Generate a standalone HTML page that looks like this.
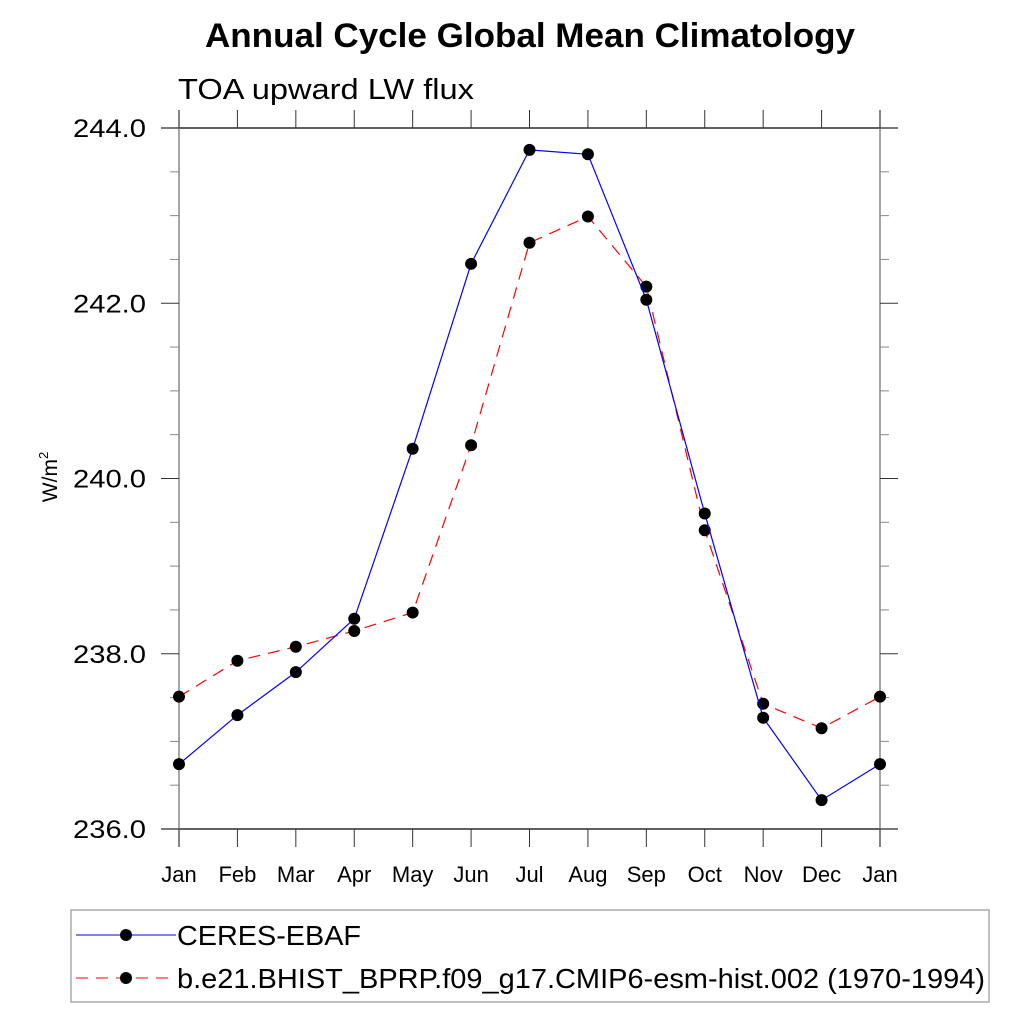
<!DOCTYPE html>
<html><head><meta charset="utf-8"><style>
body{margin:0;background:#fff;}
svg text{font-family:"Liberation Sans",sans-serif;}
</style></head><body>
<svg id="chart" width="1024" height="1024" viewBox="0 0 1024 1024" xmlns="http://www.w3.org/2000/svg">
<rect width="1024" height="1024" fill="#fff"/>
<text x="205" y="47" textLength="650" lengthAdjust="spacingAndGlyphs" font-size="34" font-weight="bold">Annual Cycle Global Mean Climatology</text>
<text x="178" y="99" textLength="296" lengthAdjust="spacingAndGlyphs" font-size="29">TOA upward LW flux</text>
<text transform="translate(57,477) rotate(-90)" text-anchor="middle" font-size="21">W/m<tspan dy="-9" font-size="13">2</tspan></text>
<g id="axes"></g>
<g id="series"></g>
<rect x="71" y="910" width="918" height="92" fill="none" stroke="#aaa" stroke-width="1.5"/>
<line x1="76" y1="935" x2="176" y2="935" stroke="#00f" stroke-width="1"/>
<circle cx="126" cy="935" r="6" fill="#000"/>
<text x="177" y="945" textLength="184" lengthAdjust="spacingAndGlyphs" font-size="28">CERES-EBAF</text>
<line x1="76" y1="978" x2="176" y2="978" stroke="#f00" stroke-width="1" stroke-dasharray="12,8"/>
<circle cx="126" cy="978" r="6" fill="#000"/>
<text x="177" y="988" textLength="808" lengthAdjust="spacingAndGlyphs" font-size="28">b.e21.BHIST_BPRP.f09_g17.CMIP6-esm-hist.002 (1970-1994)</text>
</svg>
<script>
const months = ["Jan","Feb","Mar","Apr","May","Jun","Jul","Aug","Sep","Oct","Nov","Dec","Jan"];
const ceres = [236.74,237.30,237.79,238.40,240.34,242.45,243.75,243.70,242.04,239.60,237.27,236.33,236.74];
const model = [237.51,237.92,238.08,238.26,238.47,240.38,242.69,242.99,242.19,239.41,237.43,237.15,237.51];
const yTicks = [236,238,240,242,244];
const yTickLabels = ["236.0","238.0","240.0","242.0","244.0"];
const NS="http://www.w3.org/2000/svg";
const X0=179,X1=880,Y0=829,Y1=128,ymin=236,ymax=244;
const xs=i=>X0+(X1-X0)*i/(months.length-1);
const ys=v=>Y0-(v-ymin)/(ymax-ymin)*(Y0-Y1);
function mk(tag,attrs,parent){const e=document.createElementNS(NS,tag);for(const k in attrs)e.setAttribute(k,attrs[k]);parent.appendChild(e);return e;}
const ax=document.getElementById('axes'),se=document.getElementById('series');
let e;
e=mk('line',{x1:161,y1:Y1,x2:898,y2:Y1,stroke:'#000','stroke-width':1.3},ax);


e=mk('line',{x1:161,y1:Y0,x2:898,y2:Y0,stroke:'#000','stroke-width':1.3},ax);


e=mk('line',{x1:X0,y1:110,x2:X0,y2:847,stroke:'#777','stroke-width':1.3},ax);


e=mk('line',{x1:X1,y1:110,x2:X1,y2:847,stroke:'#777','stroke-width':1.3},ax);


months.forEach((m,i)=>{const x=xs(i);
 e=mk('line',{x1:x,y1:110,x2:x,y2:Y1,stroke:'#333'},ax);
 
 
 e=mk('line',{x1:x,y1:Y0,x2:x,y2:847,stroke:'#333'},ax);
 
 
 e=mk('text',{x:x,y:882,'text-anchor':'middle','font-size':22},ax);e.textContent=m;
 
 
});
for(let v=ymin;v<=ymax+1e-9;v+=0.5){const y=ys(v);const major=Math.abs(v-Math.round(v/2)*2)<1e-9;
 const L=major?18:9;
 e=mk('line',{x1:X0-L,y1:y,x2:X0,y2:y,stroke:major?'#333':'#888'},ax);
 
 
 e=mk('line',{x1:X1,y1:y,x2:X1+L,y2:y,stroke:major?'#333':'#888'},ax);
 
 
}
yTicks.forEach((v,i)=>{e=mk('text',{x:146,y:ys(v)+9,'text-anchor':'end','font-size':25,textLength:73,lengthAdjust:'spacingAndGlyphs'},ax);e.textContent=yTickLabels[i];
 
 });
function series(vals,color,dash,name){
 const pts=vals.map((v,i)=>xs(i)+','+ys(v)).join(' ');
 e=mk('polyline',{points:pts,fill:'none',stroke:color,'stroke-width':1.2},se);
 if(dash)e.setAttribute('stroke-dasharray',dash);
 
 
 vals.forEach((v,i)=>{e=mk('circle',{cx:xs(i),cy:ys(v),r:6,fill:'#000'},se);
  
  });
}
series(model,'#f00','12,8','model');
series(ceres,'#00f',null,'ceres');
</script>
</body></html>
